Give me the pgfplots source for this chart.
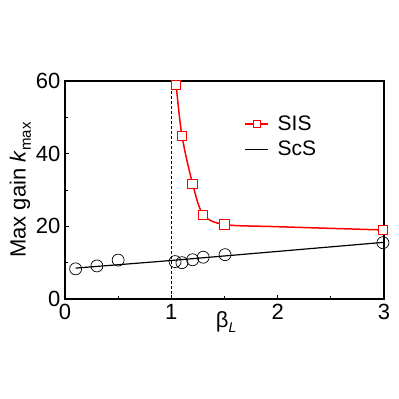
\documentclass[border=0pt]{standalone}
\usepackage{pgfplots}
\pgfplotsset{compat=1.18}
\usepackage{fontspec}
\setmainfont{Liberation Sans}
\begin{document}
\begin{tikzpicture}[x=1pt,y=1pt]
\path[use as bounding box] (0,0) rectangle (399,399);
\begin{axis}[
  at={(65pt,100pt)}, anchor=south west,
  scale only axis, width=319pt, height=218pt,
  xmin=0, xmax=3, ymin=0, ymax=60,
  xtick={0,1,2,3}, ytick={0,20,40,60},
  minor xtick={0.5,1.5,2.5}, minor ytick={10,30,50},
  xtick pos=bottom, ytick pos=left,
  tick align=inside,
  major tick length=4pt, minor tick length=3pt,
  every tick/.style={black, line width=0.9pt},
  axis line style={line width=1.3pt},
  /pgf/number format/assume math mode=true,
  tick label style={font=\fontsize{22}{22}\selectfont},
  xticklabel style={yshift=-2pt},
  yticklabel style={xshift=-1pt},
  xlabel={β\raisebox{-0.45ex}{\fontsize{14}{14}\selectfont\itshape L}},
  xlabel style={at={(axis description cs:0.505,-0.105)}, anchor=center, font=\fontsize{22}{22}\selectfont},
  ylabel={Max gain \textit{k}\raisebox{-0.45ex}{\fontsize{15}{15}\selectfont max}},
  ylabel style={at={(axis description cs:-0.14,0.5)}, anchor=center, font=\fontsize{22}{22}\selectfont},
  legend style={draw=none, fill=none, at={(0.563,0.845)}, anchor=north west,
    font=\fontsize{21}{21}\selectfont, row sep=7pt, inner sep=0pt,
    nodes={inner sep=1pt}},
  legend cell align=left,
  clip=true,
]
% dashed vertical line at beta_L = 1
\addplot[black, line width=0.6pt, dash pattern=on 3pt off 2pt, forget plot] coordinates {(1,0) (1,60)};
% ScS fit line
\addplot[black, line width=1.2pt, forget plot] coordinates {(0.1,8.5) (1,10.6) (3,15.6)};
% ScS points
\addplot[only marks, mark=o, mark size=6pt, black, mark options={line width=0.7pt}, forget plot] coordinates {
(0.1,8.3) (0.3,9.1) (0.5,10.7) (1.035,10.3) (1.10,10.0) (1.20,10.8) (1.30,11.5) (1.505,12.2) (2.99,15.5)};
% SIS curve
\addplot[red, line width=1.5pt, smooth, tension=0.5, forget plot] coordinates {
(1.037,61) (1.045,58.9) (1.10,44.9) (1.20,31.7) (1.30,23.2) (1.50,20.5) (2.0,19.9) (3.0,19.0)};
\addplot[only marks, mark=square*, mark size=4.7pt, red, mark options={fill=white, line width=1pt}, forget plot] coordinates {
(1.045,58.9) (1.10,44.9) (1.20,31.7) (1.295,23.1) (1.50,20.5) (2.99,19.0)};
\addlegendimage{red, legend image code/.code={\draw[red,line width=1.2pt] (0pt,0pt) -- (23pt,0pt); \draw[red,line width=0.8pt,fill=white] (8pt,-3.5pt) rectangle (15pt,3.5pt); \path (31pt,0pt);}}
\addlegendentry{SIS}
\addlegendimage{black, legend image code/.code={\draw[black,line width=1.4pt] (0pt,0pt) -- (23pt,0pt); \path (31pt,0pt);}}
\addlegendentry{ScS}
\end{axis}
\end{tikzpicture}
\end{document}
